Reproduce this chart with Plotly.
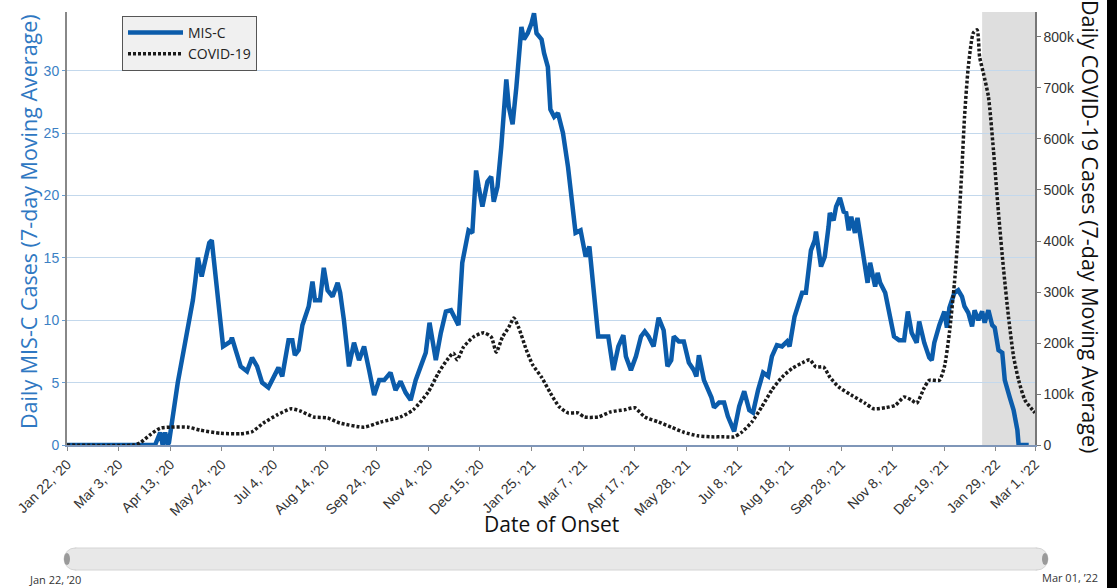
import plotly.graph_objects as go

# ---------------- data ----------------
misc_dates = ["2020-01-22","2020-04-01","2020-04-05","2020-04-07","2020-04-09","2020-04-11","2020-04-12",
"2020-04-19","2020-04-25","2020-04-29","2020-05-01","2020-05-03","2020-05-05","2020-05-08","2020-05-11","2020-05-14","2020-05-16","2020-05-18","2020-05-20","2020-05-23","2020-05-25",
"2020-05-31","2020-06-01","2020-06-04","2020-06-08","2020-06-13","2020-06-17","2020-06-21","2020-06-25","2020-06-30",
"2020-07-04","2020-07-08","2020-07-11","2020-07-16","2020-07-19","2020-07-21","2020-07-24","2020-07-27",
"2020-08-01","2020-08-04","2020-08-06","2020-08-10","2020-08-13","2020-08-16","2020-08-20","2020-08-24","2020-08-26","2020-08-29",
"2020-09-02","2020-09-06","2020-09-10","2020-09-14","2020-09-18","2020-09-22","2020-09-26","2020-09-30",
"2020-10-05","2020-10-09","2020-10-13","2020-10-17","2020-10-21","2020-10-25","2020-10-29",
"2020-11-02","2020-11-05","2020-11-10","2020-11-14","2020-11-18","2020-11-22","2020-11-26","2020-11-28",
"2020-12-01","2020-12-04","2020-12-06","2020-12-09","2020-12-12","2020-12-14","2020-12-17","2020-12-21","2020-12-24","2020-12-26","2020-12-29",
"2021-01-01","2021-01-03","2021-01-05","2021-01-07","2021-01-10","2021-01-13","2021-01-15","2021-01-17","2021-01-19","2021-01-22","2021-01-25","2021-01-27","2021-01-29",
"2021-02-02","2021-02-04","2021-02-07","2021-02-09","2021-02-12","2021-02-15","2021-02-19","2021-02-23","2021-02-27",
"2021-03-01","2021-03-05","2021-03-09","2021-03-12","2021-03-13","2021-03-16","2021-03-19","2021-03-23","2021-03-27","2021-03-31",
"2021-04-04","2021-04-08","2021-04-10","2021-04-14","2021-04-18","2021-04-22","2021-04-25","2021-04-28",
"2021-05-02","2021-05-06","2021-05-10","2021-05-13","2021-05-16","2021-05-18","2021-05-22","2021-05-26","2021-05-30",
"2021-06-03","2021-06-05","2021-06-07","2021-06-11","2021-06-17","2021-06-19","2021-06-23","2021-06-27","2021-06-30",
"2021-07-05","2021-07-09","2021-07-13","2021-07-17","2021-07-20","2021-07-24","2021-07-28",
"2021-08-01","2021-08-04","2021-08-08","2021-08-12","2021-08-16","2021-08-18","2021-08-22","2021-08-25","2021-08-28","2021-08-31",
"2021-09-04","2021-09-07","2021-09-08","2021-09-12","2021-09-15","2021-09-18","2021-09-19","2021-09-22","2021-09-24","2021-09-27","2021-09-30",
"2021-10-02","2021-10-04","2021-10-06","2021-10-09","2021-10-11","2021-10-14","2021-10-17","2021-10-19","2021-10-21","2021-10-25","2021-10-27","2021-10-29",
"2021-11-02","2021-11-06","2021-11-09","2021-11-13","2021-11-17","2021-11-20","2021-11-23","2021-11-27","2021-11-29",
"2021-12-03","2021-12-07","2021-12-09","2021-12-11","2021-12-15","2021-12-19","2021-12-21","2021-12-23","2021-12-27","2021-12-30",
"2022-01-02","2022-01-04","2022-01-07","2022-01-10","2022-01-12","2022-01-15","2022-01-18","2022-01-20","2022-01-23","2022-01-26","2022-01-28","2022-01-31",
"2022-02-03","2022-02-05","2022-02-09","2022-02-12","2022-02-15","2022-02-16","2022-02-24"]

misc_values = [0, 0, 1.0, 0, 1.0, 0, 0.2,
5.0, 8.3, 10.3, 11.6, 13.2, 15.0, 13.5, 14.8, 16.2, 16.4, 14.6, 12.4, 10.0, 7.9,
8.3, 8.6, 7.6, 6.3, 5.9, 7.0, 6.3, 5.0, 4.6,
5.5, 6.2, 5.5, 8.4, 8.4, 7.2, 7.6, 9.6,
11.1, 13.1, 11.6, 11.6, 14.2, 12.4, 11.9, 13.0, 12.2, 10.0,
6.3, 8.2, 6.8, 7.9, 6.0, 4.0, 5.2, 5.2,
5.8, 4.4, 5.1, 4.2, 3.6, 5.2, 6.3,
7.4, 9.8, 6.8, 9.0, 10.7, 10.8, 10.0, 9.6,
14.6, 16.2, 17.2, 17.0, 22.0, 20.7, 19.1, 21.1, 21.5, 19.5, 20.7,
23.9, 26.9, 29.3, 27.1, 25.7, 28.7, 30.9, 33.5, 32.5, 33.0, 33.8, 34.6, 33.0,
32.5, 31.4, 30.3, 26.9, 26.3, 26.6, 25.0, 22.3, 18.3,
17.0, 17.2, 15.1, 15.9, 14.8, 12.4, 8.7, 8.7, 8.7, 6.0,
7.9, 8.8, 7.1, 6.0, 7.1, 8.7, 9.1, 8.7,
7.9, 10.2, 9.2, 6.3, 6.8, 8.7, 8.3, 8.3, 6.6,
6.0, 5.5, 7.2, 5.2, 3.8, 3.0, 3.4, 3.4, 2.3,
1.1, 3.1, 4.3, 2.8, 2.6, 4.4, 5.8,
5.5, 7.1, 8.0, 7.9, 8.3, 7.9, 10.3, 11.4, 12.2, 12.2,
15.6, 16.4, 17.1, 14.3, 15.1, 17.5, 18.6, 18.0, 19.1, 19.8, 18.7,
18.6, 17.2, 18.3, 17.0, 18.2, 16.2, 14.6, 13.0, 14.6, 12.7, 13.8, 13.0,
12.2, 10.0, 8.7, 8.4, 8.4, 10.7, 9.0, 8.2, 9.9,
8.2, 7.0, 6.8, 8.2, 9.6, 10.7, 9.4, 11.0, 12.2, 12.4,
11.9, 11.1, 10.6, 9.5, 10.8, 10.0, 10.7, 9.8, 10.8, 9.6, 9.4, 7.6,
7.4, 5.2, 3.8, 2.8, 1.2, 0, 0]

covid_dates = ["2020-01-22","2020-03-15","2020-03-20","2020-03-28","2020-04-05","2020-04-13","2020-04-27",
"2020-05-07","2020-05-23","2020-06-08","2020-06-17","2020-06-26","2020-07-07","2020-07-18","2020-07-25",
"2020-08-05","2020-08-16","2020-08-26","2020-09-14","2020-09-27","2020-10-13","2020-10-23",
"2020-11-04","2020-11-12","2020-11-19","2020-11-24","2020-11-27","2020-12-02","2020-12-10","2020-12-18","2020-12-24","2020-12-28",
"2021-01-02","2021-01-07","2021-01-11","2021-01-15","2021-01-21","2021-01-26","2021-02-02","2021-02-09","2021-02-16","2021-02-23",
"2021-03-03","2021-03-08","2021-03-19","2021-03-29","2021-04-09","2021-04-17","2021-04-25","2021-05-06","2021-05-16","2021-05-26",
"2021-06-06","2021-06-17","2021-06-27","2021-07-05","2021-07-11","2021-07-19","2021-07-27",
"2021-08-04","2021-08-12","2021-08-20","2021-08-28","2021-09-03","2021-09-08","2021-09-14","2021-09-19","2021-09-26",
"2021-10-06","2021-10-17","2021-10-24","2021-11-02","2021-11-10","2021-11-17","2021-11-23","2021-11-27",
"2021-12-03","2021-12-07","2021-12-15","2021-12-19","2021-12-23","2021-12-27","2021-12-30",
"2022-01-02","2022-01-04","2022-01-07","2022-01-11","2022-01-14","2022-01-16","2022-01-19","2022-01-23","2022-01-27","2022-01-31",
"2022-02-04","2022-02-08","2022-02-12","2022-02-16","2022-02-21","2022-02-27","2022-03-01"]

covid_values = [0, 0, 4000, 20000, 33000, 35000, 35000,
29000, 23000, 22000, 26000, 43000, 59000, 71000, 67000,
55000, 53000, 43000, 35000, 45000, 55000, 69000,
104000, 141000, 167000, 180000, 167000, 192000, 212000, 220000, 212000, 182000,
212000, 231000, 249000, 229000, 186000, 157000, 133000, 102000, 75000, 63000,
63000, 55000, 55000, 65000, 69000, 73000, 55000, 45000, 35000, 25000,
18000, 16000, 16000, 16000, 25000, 45000, 75000,
108000, 133000, 150000, 161000, 167000, 153000, 153000, 133000, 114000,
98000, 82000, 71000, 73000, 78000, 94000, 88000, 82000,
112000, 127000, 127000, 153000, 220000, 318000, 416000,
545000, 643000, 741000, 808000, 814000, 761000, 729000, 683000, 578000, 455000,
345000, 250000, 173000, 127000, 88000, 69000, 63000]

tick_dates = ["2020-01-22","2020-03-03","2020-04-13","2020-05-24","2020-07-04","2020-08-14","2020-09-24",
"2020-11-04","2020-12-15","2021-01-25","2021-03-07","2021-04-17","2021-05-28","2021-07-08",
"2021-08-18","2021-09-28","2021-11-08","2021-12-19","2022-01-29","2022-03-01"]
tick_labels = ["Jan 22, \u201920","Mar 3, \u201920","Apr 13, \u201920","May 24, \u201920","Jul 4, \u201920",
"Aug 14, \u201920","Sep 24, \u201920","Nov 4, \u201920","Dec 15, \u201920","Jan 25, \u201921",
"Mar 7, \u201921","Apr 17, \u201921","May 28, \u201921","Jul 8, \u201921","Aug 18, \u201921",
"Sep 28, \u201921","Nov 8, \u201921","Dec 19, \u201921","Jan 29, \u201922","Mar 1, \u201922"]

shade_start = "2022-01-18"
x_start, x_end = "2020-01-22", "2022-03-01"
slider_labels = ["Jan 22, \u201920", "Mar 01, \u201922"]

# ---------------- figure ----------------
W, H = 1117, 588
L, R, T, B = 67, 82, 12, 143
pw, ph = W - L - R, H - T - B
def px(x):  # pixel -> paper x
    return (x - L) / pw
def py(y):  # pixel -> paper y
    return (H - B - y) / ph

fig = go.Figure()
fig.add_trace(go.Scatter(x=misc_dates, y=misc_values, name="MIS-C", mode="lines",
                         line=dict(color="#0b5cab", width=4.5), yaxis="y"))
fig.add_trace(go.Scatter(x=covid_dates, y=covid_values, name="COVID-19", mode="lines",
                         line=dict(color="#1a1a1a", width=3.5, dash="3px,2px", shape="spline", smoothing=0.6),
                         yaxis="y2"))

tickfont = dict(family="Liberation Sans, Arial, sans-serif", size=14, color="#333")

fig.update_layout(
    width=W, height=H,
    margin=dict(l=L, r=R, t=T, b=B),
    paper_bgcolor="white", plot_bgcolor="white",
    font=dict(family="Open Sans, sans-serif"),
    showlegend=True,
    legend=dict(x=px(122), y=py(16), xanchor="left", yanchor="top",
                bgcolor="#f0f0f0", bordercolor="#555", borderwidth=1,
                font=dict(family="Open Sans, sans-serif", size=14, color="#222"),
                tracegroupgap=0, itemwidth=55),
    xaxis=dict(type="date", range=[x_start, x_end], tickvals=tick_dates, ticktext=tick_labels,
               tickangle=-45, tickfont=tickfont, showgrid=False, zeroline=False,
               showline=True, linecolor="#7f96b8", linewidth=1.5,
               ticks="outside", ticklen=4, tickcolor="#888"),
    yaxis=dict(range=[0, 34.7], dtick=5, showgrid=True, gridcolor="#c3d8ec", gridwidth=1,
               zeroline=False, showline=True, linecolor="#888", linewidth=2,
               tickfont=dict(family="Liberation Sans, Arial, sans-serif", size=14, color="#3c80c4"),
               ticks="outside", ticklen=3, tickcolor="#6a9fd4"),
    yaxis2=dict(range=[0, 849000], dtick=100000, tickformat="~s", overlaying="y", side="right",
                showgrid=False, zeroline=False, showline=True, linecolor="#777", linewidth=1.5,
                tickfont=dict(family="Liberation Sans, Arial, sans-serif", size=14, color="#333"),
                ticks="outside", ticklen=4, tickcolor="#777"),
)

# shaded recent period
fig.add_shape(type="rect", xref="x", yref="paper", x0=shade_start, x1=x_end, y0=0, y1=1,
              fillcolor="#dedede", line=dict(width=0), layer="below")

# axis titles
ann = dict(xref="paper", yref="paper", showarrow=False, xanchor="center", yanchor="middle")
fig.add_annotation(text="Daily MIS-C Cases (7-day Moving Average)", x=px(28), y=py(222), textangle=-90,
                   font=dict(family="Open Sans, sans-serif", size=21.5, color="#2f78c2"), **ann)
fig.add_annotation(text="Daily COVID-19 Cases (7-day Moving Average)", x=px(1091), y=py(226), textangle=90,
                   font=dict(family="Open Sans, sans-serif", size=21.5, color="#111"), **ann)
fig.add_annotation(text="Date of Onset", x=px(551), y=py(524),
                   font=dict(family="Open Sans, sans-serif", size=21, color="#111"), **ann)

# range-slider look
for cx in (75, 1037):
    fig.add_shape(type="circle", xref="paper", yref="paper", x0=px(cx - 11), x1=px(cx + 11),
                  y0=py(570), y1=py(548), fillcolor="#e8e8e8", line=dict(color="#d4d4d4", width=1))
fig.add_shape(type="rect", xref="paper", yref="paper", x0=px(75), x1=px(1037), y0=py(570), y1=py(548),
              fillcolor="#e8e8e8", line=dict(color="#d4d4d4", width=1))
fig.add_shape(type="rect", xref="paper", yref="paper", x0=px(74), x1=px(1038), y0=py(569), y1=py(549),
              fillcolor="#e8e8e8", line=dict(width=0))
for cx in (67, 1045):
    fig.add_shape(type="circle", xref="paper", yref="paper", x0=px(cx - 3), x1=px(cx + 3),
                  y0=py(565), y1=py(553), fillcolor="#9a9a9a", line=dict(width=0))
fig.add_annotation(text=slider_labels[0], x=px(55), y=py(579),
                   font=dict(family="Open Sans, sans-serif", size=11, color="#333"), **ann)
fig.add_annotation(text=slider_labels[1], x=px(1070), y=py(577),
                   font=dict(family="Open Sans, sans-serif", size=11, color="#333"), **ann)

# dark edge at the right of the capture
fig.add_annotation(text="", x=px(1107), y=py(294), xanchor="left", yanchor="middle",
                   xref="paper", yref="paper", showarrow=False, width=12, height=600,
                   bgcolor="#000000", borderpad=0, borderwidth=0)

post = "document.body.style.margin='0';document.body.style.overflow='hidden';"
fig.write_html("out.html", config={"displayModeBar": False}, post_script=post)
